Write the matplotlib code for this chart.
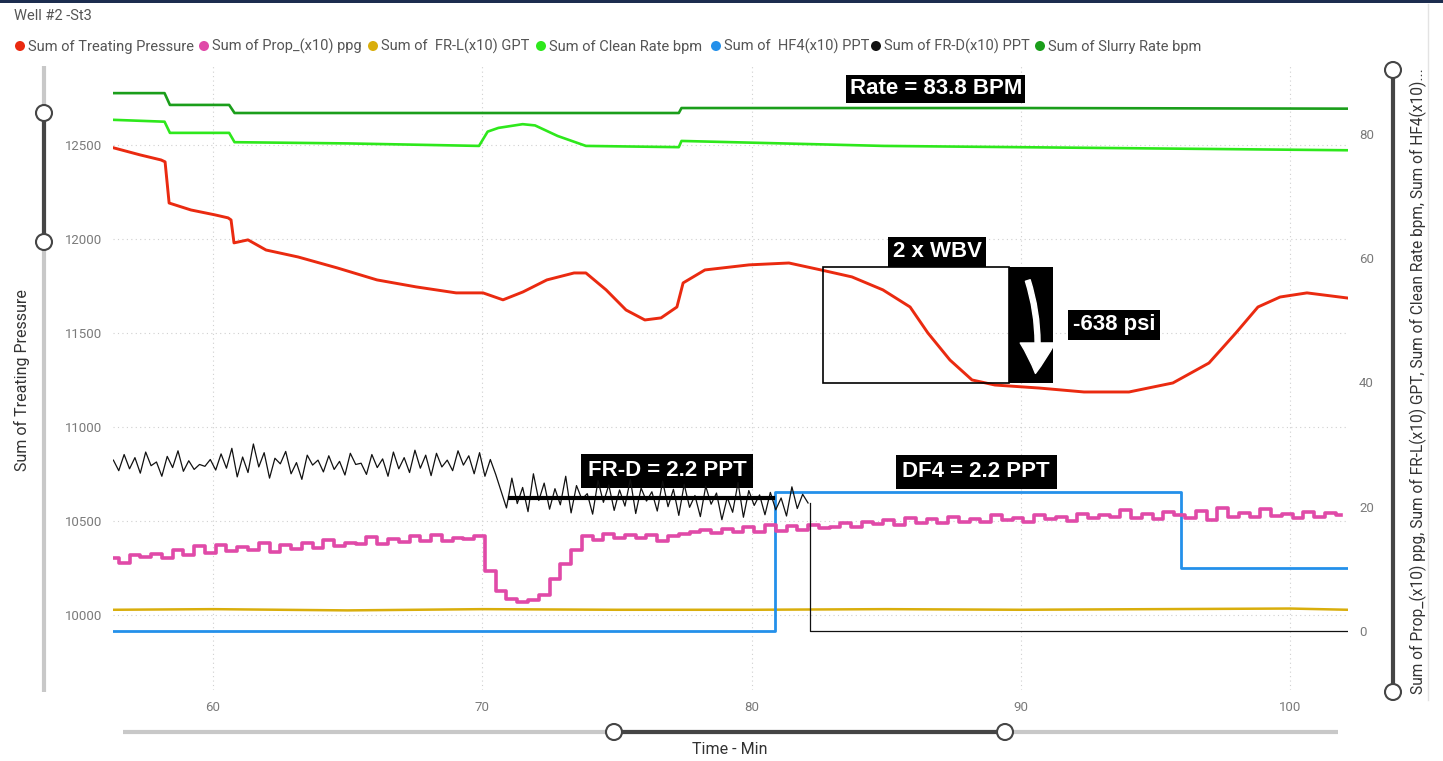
import numpy as np
import matplotlib.pyplot as plt
from matplotlib.patches import Rectangle, Circle, FancyArrowPatch

plt.rcParams['font.family'] = ['Roboto', 'DejaVu Sans']

# Treating pressure (left axis), time in minutes
press_t = [56.32, 57.29, 58.07, 58.22, 58.37, 59.18, 60.07, 60.56, 60.67, 60.78,
           61.30, 61.97, 63.16, 64.61, 66.09, 67.54, 69.03, 70.03, 70.77, 71.51,
           72.40, 73.41, 73.85, 74.60, 75.34, 76.04, 76.64, 77.23, 77.46, 78.27,
           79.91, 81.39, 82.58, 83.73, 84.88, 85.89, 86.55, 87.37, 88.19, 89.04,
           90.68, 92.35, 94.02, 95.65, 96.99, 97.99, 98.81, 99.63, 100.63, 102.12]
press_v = [12484, 12447, 12420, 12410, 12191, 12154, 12128, 12112, 12101, 11979,
           11995, 11941, 11904, 11846, 11782, 11745, 11713, 11713, 11676, 11718,
           11782, 11819, 11819, 11729, 11622, 11569, 11580, 11638, 11766, 11835,
           11862, 11872, 11835, 11798, 11729, 11638, 11500, 11356, 11250, 11223,
           11207, 11186, 11186, 11234, 11340, 11500, 11638, 11691, 11713, 11686]

# Slurry rate bpm (right axis)
slurry_t = [56.3, 58.2, 58.4, 60.6, 60.8, 77.3, 77.4, 90.0, 102.15]
slurry_v = [86.6, 86.6, 84.7, 84.7, 83.4, 83.4, 84.2, 84.2, 84.1]

# Clean rate bpm
clean_t = [56.3, 58.2, 58.4, 60.6, 60.8, 65.0, 69.88, 70.2, 70.6, 71.5, 71.96,
           72.8, 73.85, 77.3, 77.4, 84.9, 102.15]
clean_v = [82.3, 82.0, 80.2, 80.2, 78.7, 78.5, 78.1, 80.4, 81.0, 81.6, 81.4,
           79.7, 78.1, 77.9, 78.9, 78.1, 77.4]

# Prop_(x10) ppg, sampled every 0.4 min from 56.3
prop_v = [11.8, 11.0, 12.2, 11.9, 12.4, 11.7, 13.0, 12.2, 13.6, 12.6,
          13.9, 12.8, 13.5, 13.1, 14.2, 12.7, 13.8, 13.2, 14.1, 13.4,
          14.6, 13.6, 14.2, 14.0, 15.1, 14.0, 14.8, 14.3, 15.2, 14.5,
          15.5, 14.4, 15.0, 14.8, 15.2,
          9.6, 6.4, 5.2, 4.6, 4.9, 5.8, 8.4, 10.8, 13.0, 15.2,
          14.6, 15.6, 14.9, 15.5, 15.0, 15.4, 14.5, 15.3, 15.6, 15.9,
          16.2, 15.7, 16.4, 16.0, 16.8, 15.9, 17.0, 16.1, 16.9, 16.3,
          17.0, 16.5, 16.8, 17.3, 16.7, 17.6, 17.2, 17.9, 17.0, 18.1,
          17.4, 18.0, 17.3, 18.4, 17.6, 18.0, 17.5, 18.6, 17.8, 18.2,
          17.6, 18.7, 18.0, 18.4, 17.7, 18.9, 18.1, 18.6, 18.3, 19.4,
          18.2, 18.8, 18.0, 19.1, 18.6, 18.1, 19.3, 17.9, 19.8, 18.3,
          19.0, 18.4, 19.6, 18.5, 18.9, 18.2, 19.2, 18.4, 19.0, 18.6]
prop_t = np.round(56.3 + 0.4 * np.arange(len(prop_v)), 2)

# FR-L(x10) GPT
frl_t = [56.3, 60, 65, 70, 75, 80, 85, 90, 95, 100, 102.15]
frl_v = [3.4, 3.5, 3.3, 3.5, 3.4, 3.4, 3.5, 3.4, 3.5, 3.6, 3.4]

# HF4(x10) PPT
hf4_t = [56.3, 80.87, 80.87, 95.95, 95.95, 102.15]
hf4_v = [0, 0, 22.3, 22.3, 10.2, 10.2]

# FR-D(x10) PPT, sampled every 0.2 min from 56.3
frd_v = [27.5, 25.8, 28.4, 26.1, 27.9, 25.4, 28.8, 26.6, 27.2, 24.9,
         28.1, 26.3, 29.0, 25.7, 27.4, 26.0, 26.8, 26.5, 27.6, 25.9,
         28.5, 26.2, 29.4, 24.8, 28.0, 25.5, 30.1, 26.4, 28.7, 24.6,
         27.8, 26.9, 28.9, 25.3, 27.1, 24.4, 28.3, 26.7, 27.5, 25.6,
         28.2, 26.0, 27.3, 25.1, 28.6, 26.8, 27.0, 25.2, 28.4, 26.3,
         27.7, 24.9, 28.8, 26.1, 27.9, 25.5, 29.1, 26.2, 28.3, 25.0,
         28.6, 26.4, 27.5, 25.8, 29.0, 26.7, 28.2, 25.3, 28.7, 24.9,
         27.6, 25.2,
         22.5, 19.8, 24.6, 20.5, 23.1, 19.2, 25.3, 21.0, 23.8, 19.6,
         22.9, 20.3, 24.9, 19.0, 23.4, 21.2, 22.1, 18.8, 24.2, 20.7,
         23.5, 19.4, 22.7, 20.1, 24.4, 18.9, 23.0, 20.9, 22.4, 19.3,
         24.1, 20.0, 22.8, 18.6, 23.6, 19.9, 21.8, 18.4, 23.3, 20.4,
         22.2, 17.9, 21.5, 19.1, 23.9, 18.3, 22.6, 20.2, 21.9, 18.7,
         22.3, 19.5, 21.4, 18.5, 23.2, 19.7, 22.0, 20.6]
frd_t = np.round(56.3 + 0.2 * np.arange(len(frd_v)), 2)
frd_tail_t = [82.17, 82.17, 102.15]
frd_tail_v = [20.6, 0, 0]

frd_avg_t = [71.03, 80.8]
frd_avg_v = [21.4, 21.4]

legend_items = [("Sum of Treating Pressure", "#ea2a10", 20),
                ("Sum of Prop_(x10) ppg", "#e04aa8", 204),
                ("Sum of  FR-L(x10) GPT", "#d9ae0c", 373),
                ("Sum of Clean Rate bpm", "#2ee81c", 541),
                ("Sum of  HF4(x10) PPT", "#2490ea", 716),
                ("Sum of FR-D(x10) PPT", "#111111", 876),
                ("Sum of Slurry Rate bpm", "#1b9e1b", 1040)]

W, H = 1443, 761
fig = plt.figure(figsize=(W / 100, H / 100), dpi=100)
ax = fig.add_axes([113 / W, 1 - 690 / H, (1348 - 113) / W, (690 - 65) / H])
ax2 = ax.twinx()

ax.set_xlim(56.286, 102.154)
ax.set_ylim(9601, 12925)
ax2.set_ylim(-9.52, 91.13)

for a in (ax, ax2):
    for s in a.spines.values():
        s.set_visible(False)
    a.tick_params(length=0, labelsize=9.5, labelcolor='#7a7a7a')
ax.set_xticks([60, 70, 80, 90, 100])
ax.set_yticks([10000, 10500, 11000, 11500, 12000, 12500])
ax2.set_yticks([0, 20, 40, 60, 80])
ax.tick_params(axis='x', pad=8)
ax.tick_params(axis='y', pad=8)
ax2.tick_params(axis='y', pad=8)
ax.grid(True, linestyle=(0, (1, 3)), color='#d0d0d0', lw=0.8)
ax.set_axisbelow(True)

ax.plot(press_t, press_v, color='#ea2a10', lw=2.1)
ax2.plot(frl_t, frl_v, color='#d9ae0c', lw=1.8)
ax2.plot(hf4_t, hf4_v, color='#2490ea', lw=2.0)
ax2.plot(prop_t, prop_v, color='#e04aa8', lw=2.6, drawstyle='steps-mid')
ax2.plot(frd_t, frd_v, color='#111111', lw=0.9)
ax2.plot(frd_tail_t, frd_tail_v, color='#111111', lw=0.9)
ax2.plot(clean_t, clean_v, color='#2ee81c', lw=1.9)
ax2.plot(slurry_t, slurry_v, color='#1b9e1b', lw=1.9)
ax2.plot(frd_avg_t, frd_avg_v, color='black', lw=3.0, zorder=5)

# annotations
box_font = dict(family=['Liberation Sans', 'DejaVu Sans'], weight='bold',
                size=16, color='white', ha='center', va='center', zorder=8)
ax.text(86.85, 12798, "Rate = 83.8 BPM",
        bbox=dict(boxstyle='square,pad=0.15', fc='black', ec='none'), **box_font)
ax.text(86.89, 11931, "2 x WBV",
        bbox=dict(boxstyle='square,pad=0.2', fc='black', ec='none'), **box_font)
ax.text(93.46, 11543, "-638 psi",
        bbox=dict(boxstyle='square,pad=0.2', fc='black', ec='none'), **box_font)
ax.text(76.86, 10766, "FR-D = 2.2 PPT",
        bbox=dict(boxstyle='square,pad=0.3', fc='black', ec='none'), **box_font)
ax.text(88.34, 10761, "DF4 = 2.2 PPT",
        bbox=dict(boxstyle='square,pad=0.3', fc='black', ec='none'), **box_font)
ax.add_patch(Rectangle((82.66, 11234), 6.91, 617, fill=False, ec='black', lw=1.2, zorder=6))
ax.add_patch(Rectangle((89.57, 11234), 1.63, 617, fc='black', ec='none', zorder=6))
ax.add_patch(FancyArrowPatch((90.23, 11793), (90.53, 11270),
                             connectionstyle='arc3,rad=-0.12',
                             arrowstyle='simple,head_width=1.25,head_length=1.1,tail_width=0.18',
                             mutation_scale=20, color='white', zorder=7))

# overlay in pixel coordinates for header, legend and sliders
ov = fig.add_axes([0, 0, 1, 1])
ov.set_xlim(0, W)
ov.set_ylim(H, 0)
ov.axis('off')
ov.patch.set_alpha(0)

ov.add_patch(Rectangle((0, 0), W, 3, fc='#1c2d4f', ec='none'))
ov.plot([1428, 1428], [4, 700], color='#e3e3e3', lw=1)
ov.text(14, 16, "Well #2 -St3", fontsize=10.5, color='#555555', va='center')

for label, col, x0 in legend_items:
    ov.add_patch(Circle((x0, 46), 5, fc=col, ec='none'))
    ov.text(x0 + 8, 46.5, label, fontsize=10.5, color='#555555', va='center')

ov.text(22, 380, "Sum of Treating Pressure", rotation=90, fontsize=11.5,
        color='#333333', ha='center', va='center')
ov.text(1418, 381, "Sum of Prop_(x10) ppg, Sum of FR-L(x10) GPT, Sum of Clean Rate bpm, Sum of HF4(x10)...",
        rotation=90, fontsize=11.2, color='#333333', ha='center', va='center')
ov.text(730, 750, "Time - Min", fontsize=11.5, color='#333333', ha='center', va='center')

gray, dark = '#c8c8c8', '#454545'
# left slider
ov.plot([44, 44], [66, 692], color=gray, lw=3, solid_capstyle='butt')
ov.plot([44, 44], [113, 242], color=dark, lw=3, solid_capstyle='butt')
# right slider
ov.plot([1393, 1393], [70, 692], color=dark, lw=3, solid_capstyle='butt')
# bottom slider
ov.plot([123, 1338], [732, 732], color=gray, lw=3, solid_capstyle='butt')
ov.plot([614, 1005], [732, 732], color=dark, lw=3, solid_capstyle='butt')
for cx, cy in [(44, 113), (44, 242), (1393, 70), (1393, 692), (614, 732), (1005, 732)]:
    ov.add_patch(Circle((cx, cy), 8, fc='white', ec=dark, lw=1.5, zorder=5))

fig.savefig('out.png', dpi=100)
